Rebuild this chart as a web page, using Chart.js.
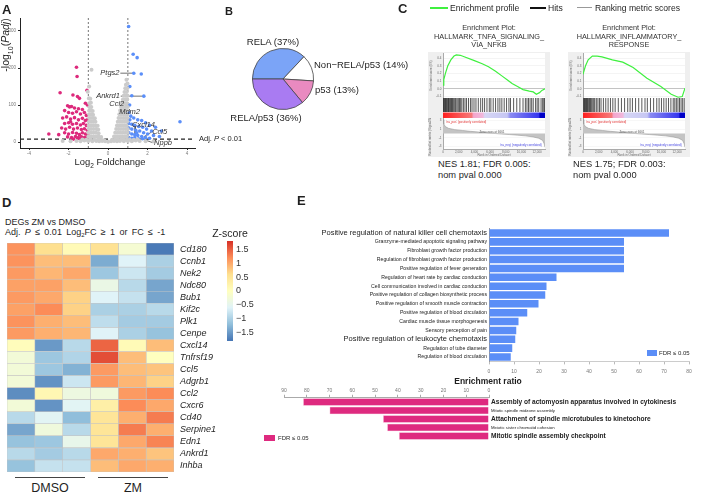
<!DOCTYPE html>
<html>
<head>
<meta charset="utf-8">
<script src="https://cdn.jsdelivr.net/npm/chart.js@4.4.1/dist/chart.umd.min.js"></script>
<style>
html, body { margin: 0; padding: 0; background: #fff; }
body { position: relative; width: 709px; height: 496px; overflow: hidden; font-family: "Liberation Sans", Arial, Helvetica, sans-serif; color: #1f1f1f; }
canvas { position: absolute; }
.t { position: absolute; white-space: nowrap; line-height: 1; transform: translateY(-50%); }
.c { transform: translate(-50%, -50%); }
.r { transform: translate(-100%, -50%); }
.lab { font-weight: bold; font-size: 13px; }
.box { position: absolute; }
</style>
</head>
<body>
<!-- A -->
<canvas id="volcano" width="200" height="160" style="left:0;top:0"></canvas>
<!-- B -->
<canvas id="pie" width="62" height="62" style="left:252px;top:48px"></canvas>
<!-- C -->
<div class="box" style="left:428px;top:52px;width:122px;height:105px;background:#efefef"></div>
<div class="box" style="left:568px;top:52px;width:122px;height:105px;background:#efefef"></div>
<canvas id="es1" width="122" height="46" style="left:428px;top:52px"></canvas>
<canvas id="hit1" width="102" height="20" style="left:443px;top:98px"></canvas>
<canvas id="rank1" width="122" height="39" style="left:428px;top:118px"></canvas>
<canvas id="es2" width="122" height="46" style="left:568px;top:52px"></canvas>
<canvas id="hit2" width="102" height="20" style="left:583px;top:98px"></canvas>
<canvas id="rank2" width="122" height="39" style="left:568px;top:118px"></canvas>
<!-- D -->
<canvas id="heat" width="219" height="229" style="left:7px;top:243px"></canvas>
<canvas id="zbar" width="45" height="106" style="left:222px;top:238px"></canvas>
<!-- E -->
<canvas id="upBars" width="400" height="155" style="left:300px;top:225px"></canvas>
<canvas id="downBars" width="450" height="60" style="left:255px;top:385px"></canvas>

<div id="labels"></div>

<script>
// ---- A: volcano plot ----
const fcCut = [-1, 1];
const padjCut = 8;
const xTicksA = [-4, -2, 0, 2, 4];
const yTicksA = [0, 100, 200, 300];

const grayPts = [
  [-2.3,3],[-1.9,2],[-1.6,3],[-1.4,2],[-1.2,4],[-1.0,3],[-0.8,2],[-0.6,3],[-0.45,2],[-0.3,3],[-0.15,2],[0,1],[0.15,2],[0.3,3],[0.45,2],[0.6,3],[0.8,2],[1.0,3],[1.2,2],[1.4,4],[1.6,3],[1.9,2],[2.3,2],
  [-1.3,7],[-1.1,6],[-0.9,8],[-0.7,7],[-0.5,8],[-0.35,6],[-0.2,5],[0.2,6],[0.35,7],[0.5,8],[0.65,7],[0.8,8],[0.95,6],[1.1,7],[1.3,6],[1.5,7],
  [-1.0,15],[-0.87,15],[-0.74,15],[-0.61,15],[-0.48,15],[-0.35,14],
  [-1.0,25],[-0.87,25],[-0.74,25],[-0.61,25],[-0.48,24],
  [-0.98,35],[-0.86,35],[-0.73,35],[-0.6,35],[-0.5,34],
  [-0.98,45],[-0.87,45],[-0.75,45],[-0.63,45],[-0.53,44],
  [-0.97,55],[-0.86,55],[-0.75,55],[-0.64,55],
  [-0.96,65],[-0.86,65],[-0.76,65],[-0.67,64],
  [-0.96,75],[-0.86,75],[-0.76,74],
  [-0.95,85],[-0.86,85],[-0.78,84],
  [-0.94,95],[-0.85,95],
  [-0.95,105],[-0.87,106],
  [-0.97,118],[-0.9,117],
  [-1.03,136],[-0.96,150],[-0.84,195],
  [0.3,15],[0.43,15],[0.56,15],[0.69,15],[0.82,15],[0.95,15],
  [0.36,25],[0.49,25],[0.62,25],[0.74,25],[0.87,25],[0.98,25],
  [0.41,35],[0.53,35],[0.65,35],[0.77,35],[0.89,35],[0.99,35],
  [0.45,45],[0.57,45],[0.69,45],[0.81,45],[0.93,45],
  [0.49,55],[0.61,55],[0.73,55],[0.85,55],[0.96,55],
  [0.53,65],[0.65,65],[0.77,65],[0.88,65],[0.98,65],
  [0.57,75],[0.69,75],[0.81,75],[0.93,75],
  [0.61,85],[0.73,85],[0.85,85],[0.96,85],
  [0.66,95],[0.78,95],[0.89,95],[0.99,95],
  [0.71,105],[0.83,105],[0.94,105],
  [0.75,115],[0.87,115],[0.97,115],
  [0.79,125],[0.9,125],[0.99,125],
  [0.83,135],[0.94,135],
  [0.87,145],[0.97,145],
  [0.9,155],[0.98,158],[0.93,168]
];

const downPts = [
  [-1.6,202],[-1.57,177],[-2.43,133],[-1.78,127],[-1.07,140],[-1.55,123],[-1.45,118],
  [-2.05,98],[-1.95,95],[-1.85,96],[-1.7,92],[-1.5,90],[-1.3,88],[-2.2,85],
  [-2.0,80],[-1.8,78],[-1.6,82],[-1.4,76],[-1.2,80],[-1.1,72],
  [-2.3,65],[-2.1,68],[-1.9,62],[-1.7,66],[-1.5,60],[-1.3,64],[-1.15,58],
  [-2.2,50],[-2.0,52],[-1.8,48],[-1.6,50],[-1.4,46],[-1.25,50],[-1.1,45],
  [-2.35,38],[-2.15,35],[-1.95,40],[-1.75,35],[-1.55,38],[-1.35,34],[-1.2,36],[-1.05,32],
  [-2.2,25],[-2.0,22],[-1.8,26],[-1.6,24],[-1.45,20],[-1.3,25],[-1.15,22],[-1.03,20],
  [-2.05,14],[-1.85,12],[-1.65,15],[-1.5,12],[-1.35,14],[-1.2,12],[-1.08,14],
  [-1.75,8],[-1.55,9],[-1.4,8],[-1.25,9],[-1.1,8],[-3.0,22],[-2.5,20],[-1.9,55],[-1.05,60],[-1.05,100],[-1.15,105]
];

const upPts = [
  [1.04,312],[1.27,237],[1.47,228],[1.3,186],[1.68,184],[1.81,124],[1.1,150],[1.09,100],[3.64,55],[1.2,125],
  [1.05,80],[1.15,70],[1.3,65],[1.5,60],[1.7,58],[1.9,52],[2.1,45],[2.4,40],[2.7,30],
  [1.05,50],[1.2,48],[1.35,45],[1.55,42],[1.75,40],[1.95,35],[2.2,30],
  [1.05,38],[1.2,35],[1.4,32],[1.6,30],[1.8,25],[2.0,22],[2.3,18],[2.6,15],
  [1.05,25],[1.2,22],[1.35,20],[1.5,18],[1.7,15],[1.9,12],[2.1,10],
  [1.05,12],[1.2,10],[1.35,12],[1.55,9],[1.75,9],[1.45,25],[1.1,60]
];

// gene tags: name, x, y of label anchor, side
const geneTags = [
  ['Ptgs2', 0.58, 186, 'r'], ['Ankrd1', 0.6, 124, 'r'], ['Ccl2', 0.82, 102, 'r'], ['Mdm2', 0.56, 81, 'l'],
  ['Cxcl14', 1.21, 46, 'l'], ['Ccl5', 2.23, 27, 'l'], ['Nppb', 2.33, -3, 'l']
];
const leaders = [
  [[0.62,186],[1.3,186]], [[0.64,124],[1.81,124]], [[0.86,100],[1.07,100]],
  [[1.37,41],[1.37,20]], [[2.2,27],[1.8,14]], [[2.28,-2],[1.75,8]]
];

// ---- B: pie ----
const pieLabels = ['RELA', 'Non\u2212RELA/p53', 'p53', 'RELA/p53'];
const pieShare = [37, 14, 13, 36];

// ---- C: GSEA ----
const nRanked = 13000;
const esTicks = [-0.1, 0, 0.1, 0.2, 0.3, 0.4];
const rankTicks = [0, 2000, 4000, 6000, 8000, 10000, 12000];
const rankYTicks = [-3, -2, -1, 0, 1, 2, 3];
const esTnfa = [[0,0.05],[100,0.12],[300,0.2],[600,0.3],[1000,0.38],[1400,0.43],[1700,0.445],[2200,0.44],[2700,0.42],[4000,0.37],[5000,0.33],[5800,0.29],[6700,0.23],[7500,0.17],[8300,0.11],[8800,0.07],[9500,0.03],[10200,-0.01],[11000,-0.03],[11500,-0.04],[11900,-0.07],[12300,-0.05],[12600,-0.02],[13000,0.0]];
const esInflam = [[0,0.19],[310,0.3],[660,0.38],[1190,0.43],[1800,0.43],[2420,0.42],[3750,0.38],[5070,0.35],[6390,0.28],[8150,0.14],[9920,0.03],[11240,-0.07],[12120,-0.11],[12650,-0.1],[13000,0.01]];
const hitsTnfa = [30,90,160,250,330,420,500,600,700,780,880,980,1080,1200,1300,1420,1550,1650,1800,1950,2100,2250,2400,2600,2800,3000,3250,3500,3700,3950,4200,4500,4800,5050,5300,5600,5900,6100,6400,6700,7000,7250,7500,7800,8100,8400,8600,9000,9400,9800,10200,10500,10700,10900,11100,11300,11500,11800,12000,12200,12500,12700,12850,12950];
const hitsInflam = [40,120,200,300,380,460,560,650,760,850,960,1100,1250,1380,1500,1700,1900,2100,2300,2600,2900,3200,3500,3800,4100,4500,4900,5300,5700,6000,6300,6700,7100,7500,7900,8200,8600,9000,9400,9700,10000,10300,10600,10900,11200,11500,11700,11900,12100,12300,12500,12700,12900];
const rankMetric = [[0,3.2],[100,2.2],[300,1.6],[700,1.2],[1500,0.9],[2500,0.7],[3500,0.5],[4500,0.35],[5500,0.2],[6661,0],[7500,-0.12],[8500,-0.25],[9500,-0.38],[10500,-0.55],[11500,-0.8],[12200,-1.1],[12700,-1.6],[12900,-2.4],[13000,-3.2]];

// ---- D: heatmap ----
const genes = ['Cd180','Ccnb1','Nek2','Ndc80','Bub1','Kif2c','Plk1','Cenpe','Cxcl14','Tnfrsf19','Ccl5','Adgrb1','Ccl2','Cxcr6','Cd40','Serpine1','Edn1','Ankrd1','Inhba'];
const samples = ['DMSO 1','DMSO 2','DMSO 3','ZM 1','ZM 2','ZM 3'];
const zScores = [
  [1.15, 0.6, 0.1, 0.55, -0.2, -1.75],
  [1.15, 0.85, 0.85, -1.35, -0.6, -1.0],
  [1.1, 0.9, 1.0, -1.1, -0.75, -1.05],
  [1.05, 1.05, 0.85, -0.4, -0.9, -1.4],
  [1.1, 1.0, 0.7, -0.6, -0.8, -1.4],
  [1.05, 1.2, 0.7, -1.0, -1.0, -0.9],
  [1.15, 0.95, 0.85, -0.85, -1.05, -1.05],
  [1.1, 0.95, 0.9, -0.6, -1.0, -1.15],
  [0.05, -1.5, -0.9, 1.45, 0.1, 0.85],
  [-0.25, -1.1, -0.95, 1.6, 0.85, 0.0],
  [-0.25, -1.1, -1.3, 1.1, 0.85, 0.8],
  [-0.25, -1.55, -0.75, 1.1, 0.9, 0.7],
  [-1.6, 0.15, -0.35, -0.3, 1.1, 1.2],
  [-0.25, -1.55, -0.55, 0.3, 1.2, 1.0],
  [-0.9, -0.55, -1.2, 0.5, 0.95, 1.3],
  [-1.4, -0.3, -0.9, 0.5, 1.3, 0.95],
  [-1.15, -1.1, -0.45, 0.5, 1.0, 1.25],
  [-0.9, -1.05, -0.9, 1.0, 0.95, 0.8],
  [-1.15, -0.8, -0.8, 0.85, 1.0, 0.95]
];
const zLim = 1.79;
const zTicks = [1.5, 1, 0.5, 0, -0.5, -1, -1.5];

// ---- E: enrichment ratios ----
const upTerms = ['Positive regulation of natural killer cell chemotaxis','Granzyme-mediated apoptotic signaling pathway','Fibroblast growth factor production','Regulation of fibroblast growth factor production','Positive regulation of fever generation','Regulation of heart rate by cardiac conduction','Cell communication involved in cardiac conduction','Positive regulation of collagen biosynthetic process','Positive regulation of smooth muscle contraction','Positive regulation of blood circulation','Cardiac muscle tissue morphogenesis','Sensory perception of pain','Positive regulation of leukocyte chemotaxis','Regulation of tube diameter','Regulation of blood circulation'];
const upRatio = [72, 54, 54, 54, 54, 27, 23, 22.5, 19.8, 15.3, 11.8, 10.9, 10.5, 9.3, 8.7];
const upBig = [0, 12];
const downTerms = ['Assembly of actomyosin apparatus involved in cytokinesis','Mitotic spindle midzone assembly','Attachment of spindle microtubules to kinetochore','Meiotic sister chromatid cohesion','Mitotic spindle assembly checkpoint'];
const downRatio = [81.6, 70, 46.5, 44.7, 39.5];
const downBig = [0, 2, 4];

// ---------------------------------------------------------------
Chart.defaults.font.family = '"Liberation Sans", Arial, Helvetica, sans-serif';
Chart.defaults.animation = false;
Chart.defaults.responsive = false;
Chart.defaults.events = [];
Chart.defaults.plugins.legend.display = false;
Chart.defaults.plugins.tooltip.enabled = false;

// paints the plot area (GSEA panels are white on a grey card)
Chart.register({
  id: 'areaFill',
  beforeDraw(chart, args, opts) {
    if (!opts.color) return;
    const a = chart.chartArea;
    chart.ctx.save();
    chart.ctx.fillStyle = opts.color;
    chart.ctx.fillRect(a.left, a.top, a.width, a.height);
    chart.ctx.restore();
  }
});

const xy = arr => arr.map(([x, y]) => ({x, y}));
const fixTicks = vals => s => { s.ticks = vals.map(v => ({value: v})); };
// fixed axis sizes so that plot areas land where the figure has them
const fitW = w => s => { s.width = w; s.paddingTop = 0; s.paddingBottom = 0; };
const fitH = h => s => { s.height = h; s.paddingLeft = 0; s.paddingRight = 0; };
const lineDs = (pts, color, width, dash) => ({data: xy(pts), showLine: true, pointRadius: 0, borderColor: color, borderWidth: width, borderDash: dash || []});

// A
const volcano = new Chart(document.getElementById('volcano'), {
  type: 'scatter',
  data: {datasets: [
    {data: xy(grayPts), pointRadius: 2, backgroundColor: '#cbcbcb', pointBorderWidth: 0},
    {data: xy(downPts), pointRadius: 1.8, backgroundColor: '#dd2a7c', pointBorderWidth: 0},
    {data: xy(upPts), pointRadius: 1.8, backgroundColor: '#5b8ff9', pointBorderWidth: 0},
    ...fcCut.map(v => lineDs([[v, -16], [v, 335]], '#666', 0.9, [2, 2])),
    lineDs([[-4.46, padjCut], [4.4, padjCut]], '#222', 1.1, [4, 3]),
    ...leaders.map(l => lineDs(l, '#333', 0.7))
  ]},
  options: {
    layout: {padding: {top: 18, right: 5, left: 0, bottom: 0}},
    scales: {
      x: {type: 'linear', min: -4.46, max: 4.4, afterBuildTicks: fixTicks(xTicksA), afterFit: fitH(12),
          grid: {drawOnChartArea: false, tickLength: 2, color: '#222'}, border: {color: '#222'},
          ticks: {font: {size: 4.5}, color: '#777', padding: 1}},
      y: {min: -16, max: 335, afterBuildTicks: fixTicks(yTicksA), afterFit: fitW(20),
          grid: {drawOnChartArea: false, tickLength: 2, color: '#222'}, border: {color: '#222'},
          ticks: {font: {size: 4.5}, color: '#777', padding: 2}}
    }
  }
});

// B
new Chart(document.getElementById('pie'), {
  type: 'pie',
  data: {labels: pieLabels, datasets: [{data: pieShare, backgroundColor: ['#7ba4f7', '#ffffff', '#e98ac0', '#a97bf2'], borderColor: '#444', borderWidth: 0.8}]},
  options: {rotation: -90, layout: {padding: 0}}
});

// C
function rankGradient(chart) {
  const a = chart.chartArea;
  if (!a) return 'transparent';
  const g = chart.ctx.createLinearGradient(a.left, 0, a.right, 0);
  [[0, '#ff1f1f'], [0.28, '#f77a7a'], [0.3, '#f3a6cc'], [0.39, '#f1b8dc'], [0.41, '#d6d6f5'], [0.63, '#c6c6f3'],
   [0.66, '#8a8af3'], [0.94, '#3535ee'], [0.95, '#0000c8'], [1, '#0000c8']].forEach(([p, c]) => g.addColorStop(p, c));
  return g;
}
const tiny = {size: 3};
function gsea(k, esPts, hits) {
  new Chart(document.getElementById('es' + k), {
    type: 'scatter',
    data: {datasets: [lineDs(esPts, '#3ff03f', 1.2)]},
    options: {
      layout: {padding: {top: 1, right: 5, left: 0, bottom: 0}},
      plugins: {areaFill: {color: '#fff'}},
      scales: {
        x: {display: false, min: 0, max: nRanked},
        y: {min: -0.12, max: 0.47, afterBuildTicks: fixTicks(esTicks), afterFit: fitW(15),
            grid: {color: c => (c.tick && c.tick.value === 0) ? '#9a9a9a' : '#ececec', drawTicks: false, lineWidth: 0.6},
            border: {color: '#aaa'},
            ticks: {font: tiny, color: '#666', padding: 1.5, callback: v => v.toFixed(1)},
            title: {display: true, text: 'Enrichment score (ES)', font: tiny, color: '#666', padding: {top: 1, bottom: 0}}}
      }
    }
  });
  // each hit is a vertical tick: segments split by null gaps
  const hitSegs = [];
  hits.forEach(r => { hitSegs.push({x: r, y: 0.3}, {x: r, y: 1}, {x: r, y: null}); });
  new Chart(document.getElementById('hit' + k), {
    type: 'scatter',
    data: {datasets: [
      {data: hitSegs, showLine: true, spanGaps: false, pointRadius: 0, borderColor: '#111', borderWidth: 0.7},
      {data: [{x: 0, y: 0.27}, {x: nRanked, y: 0.27}], showLine: true, pointRadius: 0, borderWidth: 0, fill: 'start', backgroundColor: c => rankGradient(c.chart)}
    ]},
    options: {
      layout: {padding: 0},
      plugins: {areaFill: {color: '#fff'}},
      scales: {x: {display: false, min: 0, max: nRanked}, y: {display: false, min: 0, max: 1}}
    }
  });
  new Chart(document.getElementById('rank' + k), {
    type: 'scatter',
    data: {datasets: [{data: xy(rankMetric), showLine: true, pointRadius: 0, borderColor: '#9a9a9a', borderWidth: 0.6, fill: 'origin', backgroundColor: '#c4c4c4'}]},
    options: {
      layout: {padding: {top: 0, right: 5, left: 0, bottom: 0}},
      plugins: {areaFill: {color: '#fff'}},
      scales: {
        x: {min: 0, max: nRanked, afterBuildTicks: fixTicks(rankTicks), afterFit: fitH(8),
            grid: {drawOnChartArea: false, tickLength: 1, color: '#999'}, border: {color: '#aaa'},
            ticks: {font: tiny, color: '#666', padding: 0.5, maxRotation: 0, autoSkip: false, callback: v => v.toLocaleString('en-US')},
            title: {display: true, text: 'Rank in Ordered Dataset', font: tiny, color: '#666', padding: 0}},
        y: {min: -3.6, max: 3.6, afterBuildTicks: fixTicks(rankYTicks), afterFit: fitW(15),
            grid: {color: c => (c.tick && c.tick.value === 0) ? '#999' : '#eeeeee', drawTicks: false, lineWidth: 0.5},
            border: {color: '#aaa'},
            ticks: {font: tiny, color: '#666', padding: 1.5},
            title: {display: true, text: 'Ranked list metric (Signal2Noise)', font: tiny, color: '#666', padding: 0}}
      }
    }
  });
}
gsea(1, esTnfa, hitsTnfa);
gsea(2, esInflam, hitsInflam);

// D
const zStops = ['#4575b4', '#91bfdb', '#e0f3f8', '#ffffbf', '#fee090', '#fc8d59', '#d73027'];
function zColor(z) {
  const t = (Math.max(-zLim, Math.min(zLim, z)) + zLim) / (2 * zLim) * 6;
  const i = Math.min(5, Math.floor(t)), f = t - i;
  const a = zStops[i], b = zStops[i + 1];
  const ch = (h, o) => parseInt(h.substr(o, 2), 16);
  const mix = o => Math.round(ch(a, o) + (ch(b, o) - ch(a, o)) * f);
  return `rgb(${mix(1)},${mix(3)},${mix(5)})`;
}
new Chart(document.getElementById('heat'), {
  type: 'bar',
  data: {labels: genes, datasets: samples.map((s, j) => ({
    label: s,
    data: genes.map(() => 1),
    backgroundColor: zScores.map(r => zColor(r[j])),
    borderColor: '#c4c4c4', borderWidth: 0.6, borderSkipped: false,
    barPercentage: 1, categoryPercentage: 1
  }))},
  options: {
    indexAxis: 'y',
    layout: {padding: 0},
    scales: {
      x: {stacked: true, display: false, min: 0, max: samples.length},
      y: {stacked: true, position: 'right', afterFit: fitW(52),
          grid: {display: false, drawTicks: false}, border: {display: false},
          ticks: {font: {size: 9, style: 'italic'}, color: '#1f1f1f', padding: 6, autoSkip: false}}
    }
  }
});
function zGradient(chart) {
  const a = chart.chartArea;
  if (!a) return 'transparent';
  const g = chart.ctx.createLinearGradient(0, a.bottom, 0, a.top);
  zStops.forEach((c, i) => g.addColorStop(i / 6, c));
  return g;
}
new Chart(document.getElementById('zbar'), {
  type: 'bar',
  data: {labels: [''], datasets: [{data: [[-zLim, zLim]], backgroundColor: c => zGradient(c.chart), barPercentage: 1, categoryPercentage: 1, borderWidth: 0}]},
  options: {
    layout: {padding: {left: 5, top: 3, bottom: 3, right: 0}},
    scales: {
      x: {display: false},
      y: {position: 'right', min: -zLim, max: zLim, afterBuildTicks: fixTicks(zTicks), afterFit: fitW(34),
          grid: {display: false, drawTicks: false}, border: {display: false},
          ticks: {font: {size: 9}, color: '#333', padding: 3, callback: v => v < 0 ? '\u2212' + Math.abs(v) : String(v)}}
    }
  }
});

// E
new Chart(document.getElementById('upBars'), {
  type: 'bar',
  data: {labels: upTerms, datasets: [{data: upRatio, backgroundColor: '#5b8ef7', barPercentage: 0.85, categoryPercentage: 1}]},
  options: {
    indexAxis: 'y',
    layout: {padding: {top: 3.6, right: 11, left: 0, bottom: 0}},
    scales: {
      x: {min: 0, max: 80, ticks: {stepSize: 10, font: {size: 5}, color: '#777', padding: 4, maxRotation: 0},
          afterFit: fitH(18.6), grid: {drawOnChartArea: false, tickLength: 3, color: '#bbb'}, border: {color: '#ccc'}},
      y: {afterFit: fitW(189), grid: {display: false, drawTicks: false}, border: {color: '#999'},
          ticks: {autoSkip: false, color: '#222', padding: 2, font: c => upBig.includes(c.index) ? {size: 7.5} : {size: 5.2}}}
    }
  }
});
new Chart(document.getElementById('downBars'), {
  type: 'bar',
  data: {labels: downTerms, datasets: [{data: downRatio, backgroundColor: '#de2a7f', borderColor: '#f2a5c9', borderWidth: 0.6, barPercentage: 0.88, categoryPercentage: 1}]},
  options: {
    indexAxis: 'y',
    layout: {padding: {top: 0, right: 0, left: 29, bottom: 4.75}},
    scales: {
      x: {position: 'top', reverse: true, min: 0, max: 90, ticks: {stepSize: 10, font: {size: 5}, color: '#777', padding: 1, maxRotation: 0},
          afterFit: fitH(12.75), grid: {drawOnChartArea: false, tickLength: 3, color: '#aaa'}, border: {color: '#aaa'}},
      y: {position: 'right', afterFit: fitW(216), grid: {display: false, drawTicks: false}, border: {display: false},
          ticks: {autoSkip: false, color: '#222', padding: 2, font: c => downBig.includes(c.index) ? {size: 6.6, weight: 'bold'} : {size: 4.3}}}
    }
  }
});

// ---- text ----
const L = document.getElementById('labels');
function txt(html, x, y, css, cls) {
  const d = document.createElement('div');
  d.className = 't ' + (cls || '');
  d.style.cssText = `left:${x}px;top:${y}px;` + (css || '');
  d.innerHTML = html;
  L.appendChild(d);
  return d;
}
function rule(x, y, w, h, color) {
  const d = document.createElement('div');
  d.className = 'box';
  d.style.cssText = `left:${x}px;top:${y}px;width:${w}px;height:${h}px;background:${color}`;
  L.appendChild(d);
}

// A
txt('A', 2, 9, '', 'lab');
txt('-log<sub style="font-size:7px">10</sub>(<i>Padj</i>)', 7, 45, 'font-size:10.5px;transform:translate(-50%,-50%) rotate(-90deg)');
txt('Log<sub style="font-size:6.5px">2</sub> Foldchange', 110, 163, 'font-size:9.4px', 'c');
txt('Adj. <i>P</i> &lt; 0.01', 199, 139, 'font-size:7.5px');
const sx = volcano.scales.x, sy = volcano.scales.y;
geneTags.forEach(([g, x, y, side]) => {
  txt('<i>' + g + '</i>', sx.getPixelForValue(x), sy.getPixelForValue(y), 'font-size:7.5px;color:#333', side === 'r' ? 'r' : '');
});

// B
txt('B', 225, 11, 'font-size:11px', 'lab');
txt(pieLabels[0] + ' (' + pieShare[0] + '%)', 273, 42, 'font-size:9.5px', 'c');
txt(pieLabels[1] + ' (' + pieShare[1] + '%)', 314, 65, 'font-size:9.5px');
txt(pieLabels[2] + ' (' + pieShare[2] + '%)', 315, 90, 'font-size:9.5px');
txt(pieLabels[3] + ' (' + pieShare[3] + '%)', 266, 118, 'font-size:9.5px', 'c');

// C
txt('C', 398, 8, 'font-size:13px', 'lab');
rule(430, 7, 18, 1.6, '#3ff03f');
txt('Enrichment profile', 450, 8, 'font-size:8.6px');
rule(530, 7, 16, 1.6, '#111');
txt('Hits', 548, 8, 'font-size:8.6px');
rule(577, 7, 15, 1.2, '#999');
txt('Ranking metric scores', 595, 8, 'font-size:8.6px');
[['HALLMARK_TNFA_SIGNALING_', 'VIA_NFKB', 489, '1.81', '0.005', 438], ['HALLMARK_INFLAMMATORY_', 'RESPONSE', 629, '1.75', '0.003', 573]].forEach(([a, b, cx, nes, fdr, nx]) => {
  txt('Enrichment Plot:', cx, 28, 'font-size:7.3px;color:#333', 'c');
  txt(a, cx, 36.5, 'font-size:7.3px;color:#333', 'c');
  txt(b, cx, 45, 'font-size:7.3px;color:#333', 'c');
  txt('NES ' + nes + '; FDR ' + fdr + ':', nx, 165, 'font-size:9.3px');
  txt('nom pval 0.000', nx, 176, 'font-size:9.3px');
  const off = cx - 489;
  txt("'na_pos' (positively correlated)", 446 + off, 121.5, 'font-size:3px;color:#e03030');
  txt('Zero cross at 6661', 492 + off, 132, 'font-size:3px;color:#555', 'c');
  txt("'na_neg' (negatively correlated)", 500 + off, 145, 'font-size:3px;color:#4040e0');
});

// D
txt('D', 2, 202, '', 'lab');
txt('DEGs ZM vs DMSO', 5, 222, 'font-size:9px');
txt('Adj. <i>P</i> \u2264 0.01 Log<sub style="font-size:6px">2</sub>FC \u2265 1 or FC \u2264 -1', 5, 233, 'font-size:9px;word-spacing:1.8px');
txt('Z-score', 230, 233, 'font-size:10.5px', 'c');
rule(15, 477, 70, 1, '#444');
rule(98, 477, 70, 1, '#444');
txt('DMSO', 50, 488, 'font-size:12.5px', 'c');
txt('ZM', 133, 488, 'font-size:12.5px', 'c');

// E
txt('E', 297, 200, '', 'lab');
txt('Enrichment ratio', 488, 381, 'font-size:8.5px;font-weight:bold', 'c');
rule(647, 350, 10, 6, '#5b8ef7');
txt('FDR \u2264 0.05', 659, 353, 'font-size:6px');
rule(264, 435, 11, 6, '#de2a7f');
txt('FDR \u2264 0.05', 278, 438, 'font-size:6px');
</script>
</body>
</html>
